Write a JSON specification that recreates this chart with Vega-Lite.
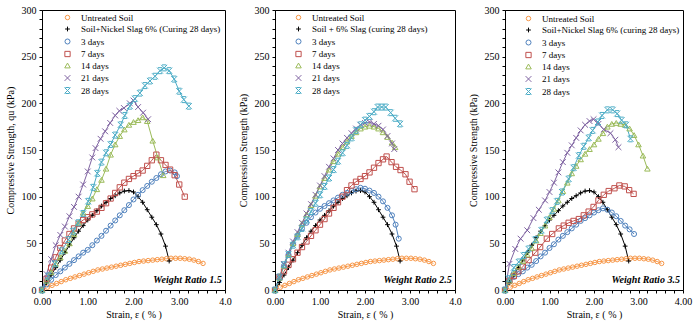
{
  "$schema": "https://vega.github.io/schema/vega-lite/v6.json",
  "padding": {"left": 4, "top": 4, "right": 2, "bottom": 2},
  "bounds": "flush",
  "spacing": 50,
  "config": {
    "font": "Liberation Serif",
    "view": {"stroke": "black", "strokeWidth": 1},
    "axis": {"domainColor": "black", "tickColor": "black", "labelColor": "black", "titleColor": "black", "labelFont": "Liberation Serif", "titleFont": "Liberation Serif", "labelFontSize": 10, "titleFontSize": 10, "titleFontWeight": "normal", "grid": false, "tickSize": 3, "labelPadding": 3, "labelFlush": false, "labelOverlap": false},
    "legend": {"labelFont": "Liberation Serif", "labelFontSize": 9, "labelColor": "black", "symbolSize": 25, "symbolStrokeWidth": 1, "rowPadding": 1.5, "labelOffset": 9, "padding": 0, "title": null, "orient": "none", "legendX": 20, "legendY": 3}
  },
  "data": {"values": [
    {"p":"all","s":"Untreated Soil","x":0.12,"y":3},{"p":"all","s":"Untreated Soil","x":0.22,"y":5},{"p":"all","s":"Untreated Soil","x":0.32,"y":7},{"p":"all","s":"Untreated Soil","x":0.42,"y":9},{"p":"all","s":"Untreated Soil","x":0.52,"y":11},{"p":"all","s":"Untreated Soil","x":0.62,"y":12.5},{"p":"all","s":"Untreated Soil","x":0.72,"y":14},{"p":"all","s":"Untreated Soil","x":0.82,"y":15.5},{"p":"all","s":"Untreated Soil","x":0.92,"y":17},{"p":"all","s":"Untreated Soil","x":1.02,"y":18.5},{"p":"all","s":"Untreated Soil","x":1.12,"y":20},{"p":"all","s":"Untreated Soil","x":1.22,"y":21.5},{"p":"all","s":"Untreated Soil","x":1.32,"y":22.5},{"p":"all","s":"Untreated Soil","x":1.42,"y":23.5},{"p":"all","s":"Untreated Soil","x":1.52,"y":24.5},{"p":"all","s":"Untreated Soil","x":1.62,"y":25.5},{"p":"all","s":"Untreated Soil","x":1.72,"y":26.5},{"p":"all","s":"Untreated Soil","x":1.82,"y":27.5},{"p":"all","s":"Untreated Soil","x":1.92,"y":28.5},{"p":"all","s":"Untreated Soil","x":2.02,"y":29.5},{"p":"all","s":"Untreated Soil","x":2.12,"y":30.5},{"p":"all","s":"Untreated Soil","x":2.22,"y":31},{"p":"all","s":"Untreated Soil","x":2.32,"y":31.5},{"p":"all","s":"Untreated Soil","x":2.42,"y":32},{"p":"all","s":"Untreated Soil","x":2.52,"y":32.5},{"p":"all","s":"Untreated Soil","x":2.62,"y":33},{"p":"all","s":"Untreated Soil","x":2.72,"y":33.5},{"p":"all","s":"Untreated Soil","x":2.82,"y":34},{"p":"all","s":"Untreated Soil","x":2.92,"y":34},{"p":"all","s":"Untreated Soil","x":3.02,"y":34},{"p":"all","s":"Untreated Soil","x":3.12,"y":33.5},{"p":"all","s":"Untreated Soil","x":3.22,"y":33},{"p":"all","s":"Untreated Soil","x":3.32,"y":32},{"p":"all","s":"Untreated Soil","x":3.42,"y":30.5},{"p":"all","s":"Untreated Soil","x":3.52,"y":28.5},
    {"p":"all","s":"Slag","x":0,"y":0},{"p":"all","s":"Slag","x":0.1,"y":8},{"p":"all","s":"Slag","x":0.2,"y":16},{"p":"all","s":"Slag","x":0.3,"y":24},{"p":"all","s":"Slag","x":0.4,"y":32},{"p":"all","s":"Slag","x":0.5,"y":40},{"p":"all","s":"Slag","x":0.6,"y":48},{"p":"all","s":"Slag","x":0.7,"y":56},{"p":"all","s":"Slag","x":0.8,"y":63},{"p":"all","s":"Slag","x":0.9,"y":69},{"p":"all","s":"Slag","x":1.0,"y":75},{"p":"all","s":"Slag","x":1.1,"y":80},{"p":"all","s":"Slag","x":1.2,"y":85},{"p":"all","s":"Slag","x":1.3,"y":90},{"p":"all","s":"Slag","x":1.4,"y":94},{"p":"all","s":"Slag","x":1.5,"y":98},{"p":"all","s":"Slag","x":1.6,"y":101},{"p":"all","s":"Slag","x":1.7,"y":104},{"p":"all","s":"Slag","x":1.8,"y":106},{"p":"all","s":"Slag","x":1.9,"y":106.5},{"p":"all","s":"Slag","x":2.0,"y":105},{"p":"all","s":"Slag","x":2.1,"y":100},{"p":"all","s":"Slag","x":2.2,"y":94},{"p":"all","s":"Slag","x":2.3,"y":86},{"p":"all","s":"Slag","x":2.4,"y":78},{"p":"all","s":"Slag","x":2.5,"y":70},{"p":"all","s":"Slag","x":2.6,"y":60},{"p":"all","s":"Slag","x":2.7,"y":47},{"p":"all","s":"Slag","x":2.78,"y":31},

    {"p":"1.5","s":"3 days","x":0,"y":0},{"p":"1.5","s":"3 days","x":0.1,"y":6},{"p":"1.5","s":"3 days","x":0.2,"y":11},{"p":"1.5","s":"3 days","x":0.3,"y":16},{"p":"1.5","s":"3 days","x":0.4,"y":20},{"p":"1.5","s":"3 days","x":0.5,"y":24},{"p":"1.5","s":"3 days","x":0.6,"y":28},{"p":"1.5","s":"3 days","x":0.7,"y":32},{"p":"1.5","s":"3 days","x":0.8,"y":36},{"p":"1.5","s":"3 days","x":0.9,"y":40},{"p":"1.5","s":"3 days","x":1.0,"y":43},{"p":"1.5","s":"3 days","x":1.1,"y":48},{"p":"1.5","s":"3 days","x":1.2,"y":53},{"p":"1.5","s":"3 days","x":1.3,"y":58},{"p":"1.5","s":"3 days","x":1.4,"y":63.5},{"p":"1.5","s":"3 days","x":1.5,"y":69},{"p":"1.5","s":"3 days","x":1.6,"y":74.5},{"p":"1.5","s":"3 days","x":1.7,"y":80},{"p":"1.5","s":"3 days","x":1.8,"y":85.5},{"p":"1.5","s":"3 days","x":1.9,"y":91},{"p":"1.5","s":"3 days","x":2.0,"y":97},{"p":"1.5","s":"3 days","x":2.1,"y":102},{"p":"1.5","s":"3 days","x":2.2,"y":107},{"p":"1.5","s":"3 days","x":2.3,"y":111.5},{"p":"1.5","s":"3 days","x":2.4,"y":116},{"p":"1.5","s":"3 days","x":2.5,"y":120},{"p":"1.5","s":"3 days","x":2.6,"y":124},{"p":"1.5","s":"3 days","x":2.7,"y":127},{"p":"1.5","s":"3 days","x":2.8,"y":128},{"p":"1.5","s":"3 days","x":2.9,"y":126},{"p":"1.5","s":"3 days","x":2.95,"y":122},
    {"p":"1.5","s":"7 days","x":0,"y":0},{"p":"1.5","s":"7 days","x":0.1,"y":12},{"p":"1.5","s":"7 days","x":0.2,"y":24},{"p":"1.5","s":"7 days","x":0.3,"y":35},{"p":"1.5","s":"7 days","x":0.4,"y":45},{"p":"1.5","s":"7 days","x":0.5,"y":53},{"p":"1.5","s":"7 days","x":0.6,"y":60},{"p":"1.5","s":"7 days","x":0.7,"y":66},{"p":"1.5","s":"7 days","x":0.8,"y":71},{"p":"1.5","s":"7 days","x":0.9,"y":75},{"p":"1.5","s":"7 days","x":1.0,"y":78},{"p":"1.5","s":"7 days","x":1.1,"y":81},{"p":"1.5","s":"7 days","x":1.2,"y":84},{"p":"1.5","s":"7 days","x":1.3,"y":88},{"p":"1.5","s":"7 days","x":1.4,"y":93},{"p":"1.5","s":"7 days","x":1.5,"y":98},{"p":"1.5","s":"7 days","x":1.6,"y":104},{"p":"1.5","s":"7 days","x":1.7,"y":110},{"p":"1.5","s":"7 days","x":1.8,"y":115},{"p":"1.5","s":"7 days","x":1.9,"y":119},{"p":"1.5","s":"7 days","x":2.0,"y":122},{"p":"1.5","s":"7 days","x":2.1,"y":125},{"p":"1.5","s":"7 days","x":2.2,"y":128},{"p":"1.5","s":"7 days","x":2.3,"y":133},{"p":"1.5","s":"7 days","x":2.4,"y":139},{"p":"1.5","s":"7 days","x":2.5,"y":145},{"p":"1.5","s":"7 days","x":2.6,"y":139},{"p":"1.5","s":"7 days","x":2.7,"y":134},{"p":"1.5","s":"7 days","x":2.8,"y":129},{"p":"1.5","s":"7 days","x":2.9,"y":123},{"p":"1.5","s":"7 days","x":3.0,"y":113},{"p":"1.5","s":"7 days","x":3.12,"y":100},
    {"p":"1.5","s":"14 days","x":0,"y":0},{"p":"1.5","s":"14 days","x":0.1,"y":10},{"p":"1.5","s":"14 days","x":0.2,"y":19},{"p":"1.5","s":"14 days","x":0.3,"y":28},{"p":"1.5","s":"14 days","x":0.4,"y":35},{"p":"1.5","s":"14 days","x":0.5,"y":42},{"p":"1.5","s":"14 days","x":0.6,"y":50},{"p":"1.5","s":"14 days","x":0.7,"y":60},{"p":"1.5","s":"14 days","x":0.8,"y":72},{"p":"1.5","s":"14 days","x":0.9,"y":83},{"p":"1.5","s":"14 days","x":1.0,"y":90},{"p":"1.5","s":"14 days","x":1.1,"y":98},{"p":"1.5","s":"14 days","x":1.2,"y":108},{"p":"1.5","s":"14 days","x":1.3,"y":118},{"p":"1.5","s":"14 days","x":1.4,"y":130},{"p":"1.5","s":"14 days","x":1.5,"y":145},{"p":"1.5","s":"14 days","x":1.6,"y":156},{"p":"1.5","s":"14 days","x":1.7,"y":165},{"p":"1.5","s":"14 days","x":1.8,"y":172},{"p":"1.5","s":"14 days","x":1.9,"y":177},{"p":"1.5","s":"14 days","x":2.0,"y":180},{"p":"1.5","s":"14 days","x":2.1,"y":182},{"p":"1.5","s":"14 days","x":2.2,"y":185},{"p":"1.5","s":"14 days","x":2.3,"y":181},{"p":"1.5","s":"14 days","x":2.42,"y":160},{"p":"1.5","s":"14 days","x":2.53,"y":142},{"p":"1.5","s":"14 days","x":2.65,"y":123},
    {"p":"1.5","s":"21 days","x":0,"y":0},{"p":"1.5","s":"21 days","x":0.1,"y":17},{"p":"1.5","s":"21 days","x":0.2,"y":33},{"p":"1.5","s":"21 days","x":0.3,"y":48},{"p":"1.5","s":"21 days","x":0.4,"y":59},{"p":"1.5","s":"21 days","x":0.5,"y":68},{"p":"1.5","s":"21 days","x":0.6,"y":79},{"p":"1.5","s":"21 days","x":0.7,"y":89},{"p":"1.5","s":"21 days","x":0.8,"y":100},{"p":"1.5","s":"21 days","x":0.9,"y":113},{"p":"1.5","s":"21 days","x":1.0,"y":127},{"p":"1.5","s":"21 days","x":1.1,"y":142},{"p":"1.5","s":"21 days","x":1.17,"y":152},{"p":"1.5","s":"21 days","x":1.28,"y":162},{"p":"1.5","s":"21 days","x":1.38,"y":170},{"p":"1.5","s":"21 days","x":1.49,"y":179},{"p":"1.5","s":"21 days","x":1.6,"y":187},{"p":"1.5","s":"21 days","x":1.69,"y":192},{"p":"1.5","s":"21 days","x":1.79,"y":195},{"p":"1.5","s":"21 days","x":1.92,"y":200},{"p":"1.5","s":"21 days","x":2.0,"y":203},{"p":"1.5","s":"21 days","x":2.1,"y":196},{"p":"1.5","s":"21 days","x":2.21,"y":190},{"p":"1.5","s":"21 days","x":2.32,"y":183},
    {"p":"1.5","s":"28 days","x":0,"y":0},{"p":"1.5","s":"28 days","x":0.14,"y":15},{"p":"1.5","s":"28 days","x":0.28,"y":28},{"p":"1.5","s":"28 days","x":0.43,"y":42},{"p":"1.5","s":"28 days","x":0.58,"y":54},{"p":"1.5","s":"28 days","x":0.68,"y":63},{"p":"1.5","s":"28 days","x":0.79,"y":72},{"p":"1.5","s":"28 days","x":0.9,"y":82},{"p":"1.5","s":"28 days","x":1.01,"y":95},{"p":"1.5","s":"28 days","x":1.12,"y":110},{"p":"1.5","s":"28 days","x":1.21,"y":125},{"p":"1.5","s":"28 days","x":1.3,"y":137},{"p":"1.5","s":"28 days","x":1.4,"y":147},{"p":"1.5","s":"28 days","x":1.5,"y":156},{"p":"1.5","s":"28 days","x":1.6,"y":166},{"p":"1.5","s":"28 days","x":1.72,"y":177},{"p":"1.5","s":"28 days","x":1.81,"y":187},{"p":"1.5","s":"28 days","x":1.92,"y":197},{"p":"1.5","s":"28 days","x":2.03,"y":205},{"p":"1.5","s":"28 days","x":2.14,"y":211},{"p":"1.5","s":"28 days","x":2.25,"y":219},{"p":"1.5","s":"28 days","x":2.36,"y":224},{"p":"1.5","s":"28 days","x":2.47,"y":229},{"p":"1.5","s":"28 days","x":2.58,"y":235},{"p":"1.5","s":"28 days","x":2.67,"y":238},{"p":"1.5","s":"28 days","x":2.78,"y":235},{"p":"1.5","s":"28 days","x":2.89,"y":226},{"p":"1.5","s":"28 days","x":3.0,"y":213},{"p":"1.5","s":"28 days","x":3.1,"y":204},{"p":"1.5","s":"28 days","x":3.21,"y":197},

    {"p":"2.5","s":"3 days","x":0,"y":0},{"p":"2.5","s":"3 days","x":0.1,"y":13},{"p":"2.5","s":"3 days","x":0.2,"y":26},{"p":"2.5","s":"3 days","x":0.3,"y":38},{"p":"2.5","s":"3 days","x":0.4,"y":49},{"p":"2.5","s":"3 days","x":0.5,"y":58},{"p":"2.5","s":"3 days","x":0.6,"y":66},{"p":"2.5","s":"3 days","x":0.7,"y":72},{"p":"2.5","s":"3 days","x":0.8,"y":78},{"p":"2.5","s":"3 days","x":0.9,"y":83},{"p":"2.5","s":"3 days","x":1.0,"y":87},{"p":"2.5","s":"3 days","x":1.1,"y":90},{"p":"2.5","s":"3 days","x":1.2,"y":93},{"p":"2.5","s":"3 days","x":1.3,"y":96},{"p":"2.5","s":"3 days","x":1.4,"y":99},{"p":"2.5","s":"3 days","x":1.5,"y":102},{"p":"2.5","s":"3 days","x":1.6,"y":104},{"p":"2.5","s":"3 days","x":1.7,"y":106},{"p":"2.5","s":"3 days","x":1.8,"y":108},{"p":"2.5","s":"3 days","x":1.9,"y":109.5},{"p":"2.5","s":"3 days","x":2.0,"y":108.5},{"p":"2.5","s":"3 days","x":2.1,"y":106.5},{"p":"2.5","s":"3 days","x":2.2,"y":104},{"p":"2.5","s":"3 days","x":2.3,"y":100},{"p":"2.5","s":"3 days","x":2.4,"y":95},{"p":"2.5","s":"3 days","x":2.5,"y":88},{"p":"2.5","s":"3 days","x":2.6,"y":80},{"p":"2.5","s":"3 days","x":2.68,"y":70},{"p":"2.5","s":"3 days","x":2.75,"y":55},
    {"p":"2.5","s":"7 days","x":0,"y":0},{"p":"2.5","s":"7 days","x":0.1,"y":14},{"p":"2.5","s":"7 days","x":0.2,"y":20},{"p":"2.5","s":"7 days","x":0.3,"y":27},{"p":"2.5","s":"7 days","x":0.4,"y":33},{"p":"2.5","s":"7 days","x":0.5,"y":40},{"p":"2.5","s":"7 days","x":0.6,"y":46},{"p":"2.5","s":"7 days","x":0.7,"y":52},{"p":"2.5","s":"7 days","x":0.8,"y":58},{"p":"2.5","s":"7 days","x":0.9,"y":64},{"p":"2.5","s":"7 days","x":1.0,"y":70},{"p":"2.5","s":"7 days","x":1.1,"y":76},{"p":"2.5","s":"7 days","x":1.2,"y":82},{"p":"2.5","s":"7 days","x":1.3,"y":88},{"p":"2.5","s":"7 days","x":1.4,"y":94},{"p":"2.5","s":"7 days","x":1.5,"y":100},{"p":"2.5","s":"7 days","x":1.6,"y":107},{"p":"2.5","s":"7 days","x":1.7,"y":112},{"p":"2.5","s":"7 days","x":1.8,"y":116},{"p":"2.5","s":"7 days","x":1.9,"y":119},{"p":"2.5","s":"7 days","x":2.0,"y":122},{"p":"2.5","s":"7 days","x":2.1,"y":126},{"p":"2.5","s":"7 days","x":2.2,"y":131},{"p":"2.5","s":"7 days","x":2.3,"y":136},{"p":"2.5","s":"7 days","x":2.4,"y":140},{"p":"2.5","s":"7 days","x":2.48,"y":143},{"p":"2.5","s":"7 days","x":2.59,"y":137},{"p":"2.5","s":"7 days","x":2.69,"y":132},{"p":"2.5","s":"7 days","x":2.79,"y":128.5},{"p":"2.5","s":"7 days","x":2.9,"y":124},{"p":"2.5","s":"7 days","x":2.99,"y":116},{"p":"2.5","s":"7 days","x":3.1,"y":108},
    {"p":"2.5","s":"14 days","x":0,"y":0},{"p":"2.5","s":"14 days","x":0.1,"y":13},{"p":"2.5","s":"14 days","x":0.2,"y":26},{"p":"2.5","s":"14 days","x":0.3,"y":38},{"p":"2.5","s":"14 days","x":0.4,"y":50},{"p":"2.5","s":"14 days","x":0.5,"y":60},{"p":"2.5","s":"14 days","x":0.6,"y":71},{"p":"2.5","s":"14 days","x":0.7,"y":81},{"p":"2.5","s":"14 days","x":0.8,"y":91},{"p":"2.5","s":"14 days","x":0.9,"y":101},{"p":"2.5","s":"14 days","x":1.0,"y":111},{"p":"2.5","s":"14 days","x":1.1,"y":120},{"p":"2.5","s":"14 days","x":1.2,"y":129},{"p":"2.5","s":"14 days","x":1.3,"y":138},{"p":"2.5","s":"14 days","x":1.4,"y":146},{"p":"2.5","s":"14 days","x":1.5,"y":153},{"p":"2.5","s":"14 days","x":1.6,"y":159},{"p":"2.5","s":"14 days","x":1.7,"y":165},{"p":"2.5","s":"14 days","x":1.8,"y":169},{"p":"2.5","s":"14 days","x":1.9,"y":173},{"p":"2.5","s":"14 days","x":2.0,"y":175},{"p":"2.5","s":"14 days","x":2.1,"y":176},{"p":"2.5","s":"14 days","x":2.2,"y":175},{"p":"2.5","s":"14 days","x":2.3,"y":173},{"p":"2.5","s":"14 days","x":2.4,"y":169},{"p":"2.5","s":"14 days","x":2.5,"y":164},{"p":"2.5","s":"14 days","x":2.6,"y":158},{"p":"2.5","s":"14 days","x":2.67,"y":153},
    {"p":"2.5","s":"21 days","x":0,"y":0},{"p":"2.5","s":"21 days","x":0.1,"y":14},{"p":"2.5","s":"21 days","x":0.2,"y":28},{"p":"2.5","s":"21 days","x":0.3,"y":40},{"p":"2.5","s":"21 days","x":0.4,"y":52},{"p":"2.5","s":"21 days","x":0.5,"y":62},{"p":"2.5","s":"21 days","x":0.6,"y":72},{"p":"2.5","s":"21 days","x":0.7,"y":82},{"p":"2.5","s":"21 days","x":0.8,"y":92},{"p":"2.5","s":"21 days","x":0.9,"y":102},{"p":"2.5","s":"21 days","x":1.0,"y":112},{"p":"2.5","s":"21 days","x":1.1,"y":122},{"p":"2.5","s":"21 days","x":1.2,"y":132},{"p":"2.5","s":"21 days","x":1.3,"y":141},{"p":"2.5","s":"21 days","x":1.4,"y":150},{"p":"2.5","s":"21 days","x":1.5,"y":157},{"p":"2.5","s":"21 days","x":1.6,"y":163},{"p":"2.5","s":"21 days","x":1.7,"y":168},{"p":"2.5","s":"21 days","x":1.8,"y":173},{"p":"2.5","s":"21 days","x":1.9,"y":177},{"p":"2.5","s":"21 days","x":2.0,"y":179},{"p":"2.5","s":"21 days","x":2.1,"y":180},{"p":"2.5","s":"21 days","x":2.2,"y":178},{"p":"2.5","s":"21 days","x":2.3,"y":176},{"p":"2.5","s":"21 days","x":2.4,"y":172},{"p":"2.5","s":"21 days","x":2.5,"y":165},{"p":"2.5","s":"21 days","x":2.6,"y":157},{"p":"2.5","s":"21 days","x":2.65,"y":151},
    {"p":"2.5","s":"28 days","x":0,"y":0},{"p":"2.5","s":"28 days","x":0.1,"y":14},{"p":"2.5","s":"28 days","x":0.2,"y":27},{"p":"2.5","s":"28 days","x":0.3,"y":38},{"p":"2.5","s":"28 days","x":0.4,"y":48},{"p":"2.5","s":"28 days","x":0.5,"y":57},{"p":"2.5","s":"28 days","x":0.6,"y":66},{"p":"2.5","s":"28 days","x":0.7,"y":75},{"p":"2.5","s":"28 days","x":0.8,"y":84},{"p":"2.5","s":"28 days","x":0.9,"y":93},{"p":"2.5","s":"28 days","x":1.0,"y":102},{"p":"2.5","s":"28 days","x":1.1,"y":111},{"p":"2.5","s":"28 days","x":1.2,"y":120},{"p":"2.5","s":"28 days","x":1.3,"y":129},{"p":"2.5","s":"28 days","x":1.4,"y":138},{"p":"2.5","s":"28 days","x":1.5,"y":147},{"p":"2.5","s":"28 days","x":1.6,"y":155},{"p":"2.5","s":"28 days","x":1.7,"y":163},{"p":"2.5","s":"28 days","x":1.8,"y":171},{"p":"2.5","s":"28 days","x":1.9,"y":177},{"p":"2.5","s":"28 days","x":2.0,"y":182},{"p":"2.5","s":"28 days","x":2.1,"y":186},{"p":"2.5","s":"28 days","x":2.2,"y":191},{"p":"2.5","s":"28 days","x":2.28,"y":196},{"p":"2.5","s":"28 days","x":2.37,"y":196},{"p":"2.5","s":"28 days","x":2.46,"y":196},{"p":"2.5","s":"28 days","x":2.57,"y":190},{"p":"2.5","s":"28 days","x":2.67,"y":184},{"p":"2.5","s":"28 days","x":2.78,"y":178},

    {"p":"3.5","s":"3 days","x":0,"y":0},{"p":"3.5","s":"3 days","x":0.1,"y":9},{"p":"3.5","s":"3 days","x":0.2,"y":14},{"p":"3.5","s":"3 days","x":0.3,"y":17},{"p":"3.5","s":"3 days","x":0.4,"y":20},{"p":"3.5","s":"3 days","x":0.5,"y":24},{"p":"3.5","s":"3 days","x":0.6,"y":27},{"p":"3.5","s":"3 days","x":0.7,"y":31},{"p":"3.5","s":"3 days","x":0.8,"y":36},{"p":"3.5","s":"3 days","x":0.9,"y":40},{"p":"3.5","s":"3 days","x":1.0,"y":45},{"p":"3.5","s":"3 days","x":1.1,"y":49},{"p":"3.5","s":"3 days","x":1.2,"y":54},{"p":"3.5","s":"3 days","x":1.3,"y":58},{"p":"3.5","s":"3 days","x":1.4,"y":62},{"p":"3.5","s":"3 days","x":1.5,"y":66},{"p":"3.5","s":"3 days","x":1.6,"y":70},{"p":"3.5","s":"3 days","x":1.7,"y":74},{"p":"3.5","s":"3 days","x":1.8,"y":77},{"p":"3.5","s":"3 days","x":1.9,"y":80},{"p":"3.5","s":"3 days","x":2.0,"y":83},{"p":"3.5","s":"3 days","x":2.1,"y":85.5},{"p":"3.5","s":"3 days","x":2.2,"y":87.5},{"p":"3.5","s":"3 days","x":2.3,"y":86},{"p":"3.5","s":"3 days","x":2.4,"y":83},{"p":"3.5","s":"3 days","x":2.5,"y":79},{"p":"3.5","s":"3 days","x":2.6,"y":74},{"p":"3.5","s":"3 days","x":2.7,"y":69},{"p":"3.5","s":"3 days","x":2.8,"y":65},{"p":"3.5","s":"3 days","x":2.9,"y":60},
    {"p":"3.5","s":"7 days","x":0,"y":0},{"p":"3.5","s":"7 days","x":0.1,"y":10},{"p":"3.5","s":"7 days","x":0.2,"y":15},{"p":"3.5","s":"7 days","x":0.3,"y":20},{"p":"3.5","s":"7 days","x":0.4,"y":25},{"p":"3.5","s":"7 days","x":0.53,"y":32},{"p":"3.5","s":"7 days","x":0.68,"y":40},{"p":"3.5","s":"7 days","x":0.79,"y":46},{"p":"3.5","s":"7 days","x":0.94,"y":55},{"p":"3.5","s":"7 days","x":1.06,"y":60},{"p":"3.5","s":"7 days","x":1.21,"y":66},{"p":"3.5","s":"7 days","x":1.32,"y":69},{"p":"3.5","s":"7 days","x":1.43,"y":72},{"p":"3.5","s":"7 days","x":1.54,"y":74},{"p":"3.5","s":"7 days","x":1.66,"y":76},{"p":"3.5","s":"7 days","x":1.77,"y":80},{"p":"3.5","s":"7 days","x":1.88,"y":84},{"p":"3.5","s":"7 days","x":1.99,"y":89},{"p":"3.5","s":"7 days","x":2.1,"y":96},{"p":"3.5","s":"7 days","x":2.22,"y":102},{"p":"3.5","s":"7 days","x":2.33,"y":106},{"p":"3.5","s":"7 days","x":2.46,"y":109},{"p":"3.5","s":"7 days","x":2.57,"y":112},{"p":"3.5","s":"7 days","x":2.69,"y":111},{"p":"3.5","s":"7 days","x":2.79,"y":107},{"p":"3.5","s":"7 days","x":2.89,"y":103},
    {"p":"3.5","s":"14 days","x":0,"y":0},{"p":"3.5","s":"14 days","x":0.1,"y":10},{"p":"3.5","s":"14 days","x":0.2,"y":18},{"p":"3.5","s":"14 days","x":0.3,"y":25},{"p":"3.5","s":"14 days","x":0.4,"y":31},{"p":"3.5","s":"14 days","x":0.5,"y":38},{"p":"3.5","s":"14 days","x":0.6,"y":45},{"p":"3.5","s":"14 days","x":0.7,"y":53},{"p":"3.5","s":"14 days","x":0.8,"y":61},{"p":"3.5","s":"14 days","x":0.9,"y":69},{"p":"3.5","s":"14 days","x":1.0,"y":78},{"p":"3.5","s":"14 days","x":1.1,"y":87},{"p":"3.5","s":"14 days","x":1.2,"y":96},{"p":"3.5","s":"14 days","x":1.3,"y":106},{"p":"3.5","s":"14 days","x":1.4,"y":115},{"p":"3.5","s":"14 days","x":1.5,"y":125},{"p":"3.5","s":"14 days","x":1.6,"y":133},{"p":"3.5","s":"14 days","x":1.7,"y":140},{"p":"3.5","s":"14 days","x":1.8,"y":146},{"p":"3.5","s":"14 days","x":1.9,"y":151},{"p":"3.5","s":"14 days","x":2.0,"y":156},{"p":"3.5","s":"14 days","x":2.1,"y":162},{"p":"3.5","s":"14 days","x":2.2,"y":168},{"p":"3.5","s":"14 days","x":2.3,"y":175},{"p":"3.5","s":"14 days","x":2.4,"y":178},{"p":"3.5","s":"14 days","x":2.5,"y":179},{"p":"3.5","s":"14 days","x":2.6,"y":178},{"p":"3.5","s":"14 days","x":2.7,"y":177},{"p":"3.5","s":"14 days","x":2.8,"y":173},{"p":"3.5","s":"14 days","x":2.9,"y":166},{"p":"3.5","s":"14 days","x":3.0,"y":156},{"p":"3.5","s":"14 days","x":3.1,"y":144},{"p":"3.5","s":"14 days","x":3.2,"y":130},
    {"p":"3.5","s":"21 days","x":0,"y":0},{"p":"3.5","s":"21 days","x":0.1,"y":28},{"p":"3.5","s":"21 days","x":0.23,"y":44},{"p":"3.5","s":"21 days","x":0.35,"y":55},{"p":"3.5","s":"21 days","x":0.5,"y":64},{"p":"3.5","s":"21 days","x":0.64,"y":77},{"p":"3.5","s":"21 days","x":0.76,"y":86},{"p":"3.5","s":"21 days","x":0.9,"y":96},{"p":"3.5","s":"21 days","x":1.0,"y":105},{"p":"3.5","s":"21 days","x":1.1,"y":115},{"p":"3.5","s":"21 days","x":1.2,"y":126},{"p":"3.5","s":"21 days","x":1.3,"y":137},{"p":"3.5","s":"21 days","x":1.4,"y":147},{"p":"3.5","s":"21 days","x":1.5,"y":155},{"p":"3.5","s":"21 days","x":1.6,"y":163},{"p":"3.5","s":"21 days","x":1.7,"y":171},{"p":"3.5","s":"21 days","x":1.8,"y":177},{"p":"3.5","s":"21 days","x":1.9,"y":181},{"p":"3.5","s":"21 days","x":1.99,"y":183},{"p":"3.5","s":"21 days","x":2.1,"y":178},{"p":"3.5","s":"21 days","x":2.22,"y":172},{"p":"3.5","s":"21 days","x":2.37,"y":168},{"p":"3.5","s":"21 days","x":2.48,"y":161},{"p":"3.5","s":"21 days","x":2.55,"y":153},
    {"p":"3.5","s":"28 days","x":0,"y":0},{"p":"3.5","s":"28 days","x":0.08,"y":12},{"p":"3.5","s":"28 days","x":0.2,"y":24},{"p":"3.5","s":"28 days","x":0.31,"y":30},{"p":"3.5","s":"28 days","x":0.42,"y":37},{"p":"3.5","s":"28 days","x":0.53,"y":44},{"p":"3.5","s":"28 days","x":0.68,"y":54},{"p":"3.5","s":"28 days","x":0.82,"y":64},{"p":"3.5","s":"28 days","x":0.94,"y":75},{"p":"3.5","s":"28 days","x":1.06,"y":85},{"p":"3.5","s":"28 days","x":1.17,"y":95},{"p":"3.5","s":"28 days","x":1.28,"y":105},{"p":"3.5","s":"28 days","x":1.43,"y":119},{"p":"3.5","s":"28 days","x":1.54,"y":131},{"p":"3.5","s":"28 days","x":1.66,"y":144},{"p":"3.5","s":"28 days","x":1.77,"y":154},{"p":"3.5","s":"28 days","x":1.88,"y":163},{"p":"3.5","s":"28 days","x":1.97,"y":171},{"p":"3.5","s":"28 days","x":2.09,"y":180},{"p":"3.5","s":"28 days","x":2.18,"y":187},{"p":"3.5","s":"28 days","x":2.3,"y":193},{"p":"3.5","s":"28 days","x":2.42,"y":193},{"p":"3.5","s":"28 days","x":2.52,"y":189},{"p":"3.5","s":"28 days","x":2.62,"y":182},{"p":"3.5","s":"28 days","x":2.72,"y":177},{"p":"3.5","s":"28 days","x":2.82,"y":162}
  ]},
  "resolve": {"scale": {"color": "independent", "shape": "independent", "size": "independent", "x": "independent", "y": "independent"}, "legend": {"color": "independent", "shape": "independent"}},
  "hconcat": [
    {
      "width": 183, "height": 280,
      "layer": [
        {"transform": [{"filter": "datum.p === 'all' || datum.p === '1.5'"}],
         "mark": {"type": "line", "strokeWidth": 1},
         "encoding": {
           "x": {"field": "x", "type": "quantitative", "scale": {"domain": [0, 4], "nice": false, "zero": false}, "axis": {"title": "Strain, ε ( % )", "values": [0,0.2,0.4,0.6,0.8,1,1.2,1.4,1.6,1.8,2,2.2,2.4,2.6,2.8,3,3.2,3.4,3.6,3.8,4], "labelExpr": "datum.value % 1 === 0 ? (datum.value === 4 ? '4.0' : format(datum.value, '.2f')) : ''", "titlePadding": 3}},
           "y": {"field": "y", "type": "quantitative", "scale": {"domain": [0, 300], "nice": false}, "axis": {"title": "Compressive Strength, qu (kPa)", "values": [0,10,20,30,40,50,60,70,80,90,100,110,120,130,140,150,160,170,180,190,200,210,220,230,240,250,260,270,280,290,300], "labelExpr": "datum.value % 50 === 0 ? datum.label : ''", "titlePadding": 6}},
           "color": {"field": "s", "type": "nominal", "scale": {"domain": ["Untreated Soil","Slag","3 days","7 days","14 days","21 days","28 days"], "range": ["#F79646","#000000","#4F81BD","#C0504D","#9BBB59","#8064A2","#4BACC6"]},
           "legend": {"labelExpr": "datum.label === 'Slag' ? 'Soil+Nickel Slag 6% (Curing 28 days)' : datum.label", "legendX": 21, "legendY": 3}}}},
        {"transform": [{"filter": "datum.p === 'all' || datum.p === '1.5'"}],
         "mark": {"type": "point", "filled": false, "strokeWidth": 1, "opacity": 1},
         "encoding": {
           "x": {"field": "x", "type": "quantitative", "scale": {"domain": [0, 4], "nice": false, "zero": false}, "axis": {"title": "Strain, ε ( % )", "values": [0,0.2,0.4,0.6,0.8,1,1.2,1.4,1.6,1.8,2,2.2,2.4,2.6,2.8,3,3.2,3.4,3.6,3.8,4], "labelExpr": "datum.value % 1 === 0 ? (datum.value === 4 ? '4.0' : format(datum.value, '.2f')) : ''", "titlePadding": 3}},
           "y": {"field": "y", "type": "quantitative", "scale": {"domain": [0, 300], "nice": false}, "axis": {"title": "Compressive Strength, qu (kPa)", "values": [0,10,20,30,40,50,60,70,80,90,100,110,120,130,140,150,160,170,180,190,200,210,220,230,240,250,260,270,280,290,300], "labelExpr": "datum.value % 50 === 0 ? datum.label : ''", "titlePadding": 6}},
           "color": {"field": "s", "type": "nominal"},
           "shape": {"field": "s", "type": "nominal", "scale": {"domain": ["Untreated Soil","Slag","3 days","7 days","14 days","21 days","28 days"], "range": ["circle","M-1,0H1M0,-1V1","circle","square","triangle-up","M-1,-1L1,1M-1,1L1,-1","M-1,-1L1,1M-1,1L1,-1M-0.7,-1H0.7M-0.7,1H0.7"]}, "legend": {"labelExpr": "datum.label === 'Slag' ? 'Soil+Nickel Slag 6% (Curing 28 days)' : datum.label", "legendX": 21, "legendY": 3}},
           "size": {"field": "s", "type": "nominal", "scale": {"domain": ["Untreated Soil","Slag","3 days","7 days","14 days","21 days","28 days"], "range": [20, 36, 16, 30, 36, 25, 36]}, "legend": null}
         }},
        {"data": {"values": [{"t": "Weight Ratio 1.5"}]},
         "mark": {"type": "text", "align": "right", "baseline": "alphabetic", "fontStyle": "italic", "fontWeight": "bold", "fontSize": 10, "font": "Liberation Serif", "fill": "black"},
         "encoding": {
           "x": {"datum": 3.93, "type": "quantitative", "scale": {"domain": [0, 4], "nice": false, "zero": false}, "axis": {"title": "Strain, ε ( % )", "values": [0,0.2,0.4,0.6,0.8,1,1.2,1.4,1.6,1.8,2,2.2,2.4,2.6,2.8,3,3.2,3.4,3.6,3.8,4], "labelExpr": "datum.value % 1 === 0 ? (datum.value === 4 ? '4.0' : format(datum.value, '.2f')) : ''", "titlePadding": 3}},
           "y": {"datum": 8, "type": "quantitative", "scale": {"domain": [0, 300], "nice": false}, "axis": {"title": "Compressive Strength, qu (kPa)", "values": [0,10,20,30,40,50,60,70,80,90,100,110,120,130,140,150,160,170,180,190,200,210,220,230,240,250,260,270,280,290,300], "labelExpr": "datum.value % 50 === 0 ? datum.label : ''", "titlePadding": 6}},
           "text": {"field": "t", "type": "nominal"}}}
      ]
    },
    {
      "width": 180, "height": 280,
      "layer": [
        {"transform": [{"filter": "datum.p === 'all' || datum.p === '2.5'"}],
         "mark": {"type": "line", "strokeWidth": 1},
         "encoding": {
           "x": {"field": "x", "type": "quantitative", "scale": {"domain": [0, 4], "nice": false, "zero": false}, "axis": {"title": "Strain, ε ( % )", "values": [0,0.2,0.4,0.6,0.8,1,1.2,1.4,1.6,1.8,2,2.2,2.4,2.6,2.8,3,3.2,3.4,3.6,3.8,4], "labelExpr": "datum.value % 1 === 0 ? (datum.value === 4 ? '4.0' : format(datum.value, '.2f')) : ''", "titlePadding": 3}},
           "y": {"field": "y", "type": "quantitative", "scale": {"domain": [0, 300], "nice": false}, "axis": {"title": "Compression Strength (kPa)", "values": [0,10,20,30,40,50,60,70,80,90,100,110,120,130,140,150,160,170,180,190,200,210,220,230,240,250,260,270,280,290,300], "labelExpr": "datum.value % 50 === 0 ? datum.label : ''", "titlePadding": 6}},
           "color": {"field": "s", "type": "nominal", "scale": {"domain": ["Untreated Soil","Slag","3 days","7 days","14 days","21 days","28 days"], "range": ["#F79646","#000000","#4F81BD","#C0504D","#9BBB59","#8064A2","#4BACC6"]},
           "legend": {"labelExpr": "datum.label === 'Slag' ? 'Soil + 6% Slag (curing 28 days)' : datum.label", "legendX": 19, "legendY": 3}}}},
        {"transform": [{"filter": "datum.p === 'all' || datum.p === '2.5'"}],
         "mark": {"type": "point", "filled": false, "strokeWidth": 1, "opacity": 1},
         "encoding": {
           "x": {"field": "x", "type": "quantitative", "scale": {"domain": [0, 4], "nice": false, "zero": false}, "axis": {"title": "Strain, ε ( % )", "values": [0,0.2,0.4,0.6,0.8,1,1.2,1.4,1.6,1.8,2,2.2,2.4,2.6,2.8,3,3.2,3.4,3.6,3.8,4], "labelExpr": "datum.value % 1 === 0 ? (datum.value === 4 ? '4.0' : format(datum.value, '.2f')) : ''", "titlePadding": 3}},
           "y": {"field": "y", "type": "quantitative", "scale": {"domain": [0, 300], "nice": false}, "axis": {"title": "Compression Strength (kPa)", "values": [0,10,20,30,40,50,60,70,80,90,100,110,120,130,140,150,160,170,180,190,200,210,220,230,240,250,260,270,280,290,300], "labelExpr": "datum.value % 50 === 0 ? datum.label : ''", "titlePadding": 6}},
           "color": {"field": "s", "type": "nominal"},
           "shape": {"field": "s", "type": "nominal", "scale": {"domain": ["Untreated Soil","Slag","3 days","7 days","14 days","21 days","28 days"], "range": ["circle","M-1,0H1M0,-1V1","circle","square","triangle-up","M-1,-1L1,1M-1,1L1,-1","M-1,-1L1,1M-1,1L1,-1M-0.7,-1H0.7M-0.7,1H0.7"]}, "legend": {"labelExpr": "datum.label === 'Slag' ? 'Soil + 6% Slag (curing 28 days)' : datum.label", "legendX": 19, "legendY": 3}},
           "size": {"field": "s", "type": "nominal", "scale": {"domain": ["Untreated Soil","Slag","3 days","7 days","14 days","21 days","28 days"], "range": [20, 36, 16, 30, 36, 25, 36]}, "legend": null}
         }},
        {"data": {"values": [{"t": "Weight Ratio 2.5"}]},
         "mark": {"type": "text", "align": "right", "baseline": "alphabetic", "fontStyle": "italic", "fontWeight": "bold", "fontSize": 10, "font": "Liberation Serif", "fill": "black"},
         "encoding": {
           "x": {"datum": 3.93, "type": "quantitative", "scale": {"domain": [0, 4], "nice": false, "zero": false}, "axis": {"title": "Strain, ε ( % )", "values": [0,0.2,0.4,0.6,0.8,1,1.2,1.4,1.6,1.8,2,2.2,2.4,2.6,2.8,3,3.2,3.4,3.6,3.8,4], "labelExpr": "datum.value % 1 === 0 ? (datum.value === 4 ? '4.0' : format(datum.value, '.2f')) : ''", "titlePadding": 3}},
           "y": {"datum": 8, "type": "quantitative", "scale": {"domain": [0, 300], "nice": false}, "axis": {"title": "Compression Strength (kPa)", "values": [0,10,20,30,40,50,60,70,80,90,100,110,120,130,140,150,160,170,180,190,200,210,220,230,240,250,260,270,280,290,300], "labelExpr": "datum.value % 50 === 0 ? datum.label : ''", "titlePadding": 6}},
           "text": {"field": "t", "type": "nominal"}}}
      ]
    },
    {
      "width": 178, "height": 280,
      "layer": [
        {"transform": [{"filter": "datum.p === 'all' || datum.p === '3.5'"}],
         "mark": {"type": "line", "strokeWidth": 1},
         "encoding": {
           "x": {"field": "x", "type": "quantitative", "scale": {"domain": [0, 4], "nice": false, "zero": false}, "axis": {"title": "Strain, ε ( % )", "values": [0,0.2,0.4,0.6,0.8,1,1.2,1.4,1.6,1.8,2,2.2,2.4,2.6,2.8,3,3.2,3.4,3.6,3.8,4], "labelExpr": "datum.value % 1 === 0 ? format(datum.value, '.2f') : ''", "titlePadding": 3}},
           "y": {"field": "y", "type": "quantitative", "scale": {"domain": [0, 300], "nice": false}, "axis": {"title": "Compressive Strength (kPa)", "values": [0,10,20,30,40,50,60,70,80,90,100,110,120,130,140,150,160,170,180,190,200,210,220,230,240,250,260,270,280,290,300], "labelExpr": "datum.value % 50 === 0 ? datum.label : ''", "titlePadding": 6}},
           "color": {"field": "s", "type": "nominal", "scale": {"domain": ["Untreated Soil","Slag","3 days","7 days","14 days","21 days","28 days"], "range": ["#F79646","#000000","#4F81BD","#C0504D","#9BBB59","#8064A2","#4BACC6"]},
           "legend": {"labelExpr": "datum.label === 'Slag' ? 'Soil+Nickel Slag 6% (curing 28 days)' : datum.label", "legendX": 19, "legendY": 4}}}},
        {"transform": [{"filter": "datum.p === 'all' || datum.p === '3.5'"}],
         "mark": {"type": "point", "filled": false, "strokeWidth": 1, "opacity": 1},
         "encoding": {
           "x": {"field": "x", "type": "quantitative", "scale": {"domain": [0, 4], "nice": false, "zero": false}, "axis": {"title": "Strain, ε ( % )", "values": [0,0.2,0.4,0.6,0.8,1,1.2,1.4,1.6,1.8,2,2.2,2.4,2.6,2.8,3,3.2,3.4,3.6,3.8,4], "labelExpr": "datum.value % 1 === 0 ? format(datum.value, '.2f') : ''", "titlePadding": 3}},
           "y": {"field": "y", "type": "quantitative", "scale": {"domain": [0, 300], "nice": false}, "axis": {"title": "Compressive Strength (kPa)", "values": [0,10,20,30,40,50,60,70,80,90,100,110,120,130,140,150,160,170,180,190,200,210,220,230,240,250,260,270,280,290,300], "labelExpr": "datum.value % 50 === 0 ? datum.label : ''", "titlePadding": 6}},
           "color": {"field": "s", "type": "nominal"},
           "shape": {"field": "s", "type": "nominal", "scale": {"domain": ["Untreated Soil","Slag","3 days","7 days","14 days","21 days","28 days"], "range": ["circle","M-1,0H1M0,-1V1","circle","square","triangle-up","M-1,-1L1,1M-1,1L1,-1","M-1,-1L1,1M-1,1L1,-1M-0.7,-1H0.7M-0.7,1H0.7"]}, "legend": {"labelExpr": "datum.label === 'Slag' ? 'Soil+Nickel Slag 6% (curing 28 days)' : datum.label", "legendX": 19, "legendY": 4}},
           "size": {"field": "s", "type": "nominal", "scale": {"domain": ["Untreated Soil","Slag","3 days","7 days","14 days","21 days","28 days"], "range": [20, 36, 16, 30, 36, 25, 36]}, "legend": null}
         }},
        {"data": {"values": [{"t": "Weight Ratio 3.5"}]},
         "mark": {"type": "text", "align": "right", "baseline": "alphabetic", "fontStyle": "italic", "fontWeight": "bold", "fontSize": 10, "font": "Liberation Serif", "fill": "black"},
         "encoding": {
           "x": {"datum": 3.93, "type": "quantitative", "scale": {"domain": [0, 4], "nice": false, "zero": false}, "axis": {"title": "Strain, ε ( % )", "values": [0,0.2,0.4,0.6,0.8,1,1.2,1.4,1.6,1.8,2,2.2,2.4,2.6,2.8,3,3.2,3.4,3.6,3.8,4], "labelExpr": "datum.value % 1 === 0 ? format(datum.value, '.2f') : ''", "titlePadding": 3}},
           "y": {"datum": 8, "type": "quantitative", "scale": {"domain": [0, 300], "nice": false}, "axis": {"title": "Compressive Strength (kPa)", "values": [0,10,20,30,40,50,60,70,80,90,100,110,120,130,140,150,160,170,180,190,200,210,220,230,240,250,260,270,280,290,300], "labelExpr": "datum.value % 50 === 0 ? datum.label : ''", "titlePadding": 6}},
           "text": {"field": "t", "type": "nominal"}}}
      ]
    }
  ]
}
